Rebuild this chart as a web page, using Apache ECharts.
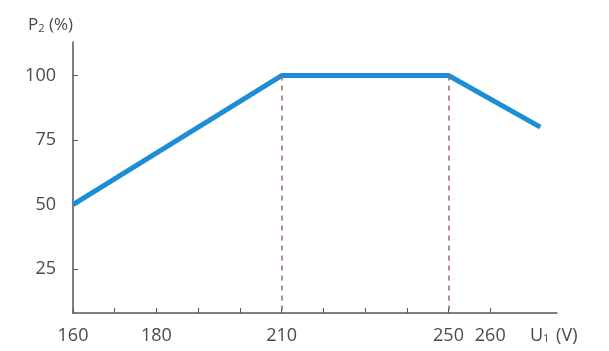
<!DOCTYPE html>
<html>
<head>
<meta charset="utf-8">
<script src="https://cdn.jsdelivr.net/npm/echarts@6/dist/echarts.min.js"></script>
<style>
html, body { margin: 0; padding: 0; background: #fff; }
#chart { width: 609px; height: 351px; }
</style>
</head>
<body>
<div id="chart"></div>
<script>
// U1 (V) -> P2 (%)
var voltage = [160, 210, 250, 272];
var power = [50, 100, 100, 80];
var xTicks = [160, 170, 180, 190, 200, 210, 220, 230, 240, 250, 260];
var xLabels = [160, 180, 210, 250, 260];
var yTicks = [25, 50, 75, 100];
var dropLines = [210, 250];   // dashed guides down to the axis

var yMin = 8, yMax = 113;
var textColor = '#4a4a4a';
var font = 'Open Sans';

var points = [];
for (var i = 0; i < voltage.length; i++) {
    points.push([voltage[i], power[i]]);
}
var guides = [];
for (var j = 0; j < dropLines.length; j++) {
    guides.push([{coord: [dropLines[j], 100]}, {coord: [dropLines[j], yMin]}]);
}

var option = {
    animation: false,
    grid: {left: 73, right: 52, top: 42, bottom: 38},
    xAxis: {
        type: 'value',
        min: 160,
        max: 276,
        name: 'U{sub|1} (V)',
        nameLocation: 'end',
        nameGap: -27,
        nameTextStyle: {
            color: textColor, fontFamily: font, fontSize: 18,
            padding: [46, 0, 0, 0],
            rich: {sub: {fontSize: 11, color: textColor, fontFamily: font, padding: [6, 2, 0, 0]}}
        },
        axisLine: {lineStyle: {color: '#555', width: 1.5}},
        axisTick: {inside: true, length: 5, customValues: xTicks, lineStyle: {color: '#555'}},
        axisLabel: {customValues: xLabels, color: textColor, fontFamily: font, fontSize: 18, margin: 14},
        splitLine: {show: false}
    },
    yAxis: {
        type: 'value',
        min: yMin,
        max: yMax,
        name: 'P{sub|2} (%)',
        nameLocation: 'end',
        nameGap: 8,
        nameTextStyle: {
            color: textColor, fontFamily: font, fontSize: 17, align: 'right', padding: [0, 0, 0, 0],
            rich: {sub: {fontSize: 11, color: textColor, fontFamily: font, padding: [6, 0, 0, 0]}}
        },
        axisLine: {show: true, lineStyle: {color: '#555', width: 1.5}},
        axisTick: {show: true, inside: true, length: 5, customValues: yTicks, lineStyle: {color: '#555'}},
        axisLabel: {customValues: yTicks, color: textColor, fontFamily: font, fontSize: 18, margin: 17},
        splitLine: {show: false}
    },
    series: [{
        type: 'line',
        data: points,
        symbol: 'none',
        lineStyle: {color: '#1b8ed6', width: 5},
        markLine: {
            silent: true,
            symbol: 'none',
            label: {show: false},
            lineStyle: {color: '#9a6a62', type: [5, 5], width: 1.5},
            data: guides
        },
        z: 3
    }]
};

var chart = echarts.init(document.getElementById('chart'));
chart.setOption(option);
</script>
</body>
</html>
